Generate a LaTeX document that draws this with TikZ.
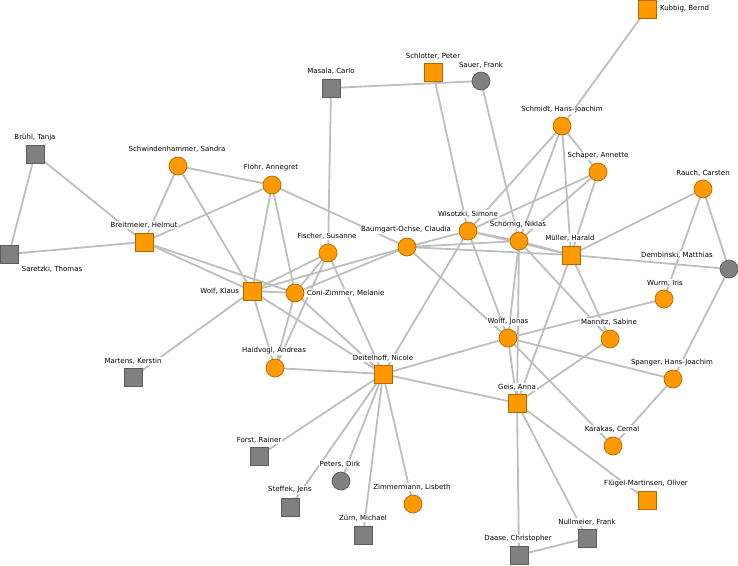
\documentclass[tikz,border=0pt]{standalone}
\usepackage{fontspec}
\setmainfont{DejaVu Sans}
\definecolor{edgegray}{RGB}{190,190,190}
\definecolor{ofill}{RGB}{255,153,0}
\definecolor{oline}{RGB}{176,104,0}
\definecolor{gfill}{RGB}{128,128,128}
\definecolor{gline}{RGB}{92,92,92}
\tikzset{
  edge/.style={draw=edgegray, line width=1.8pt},
  ocirc/.style={circle, fill=ofill, draw=oline, line width=0.7pt, minimum size=18pt, inner sep=0pt},
  osq/.style={rectangle, fill=ofill, draw=oline, line width=0.7pt, minimum size=18pt, inner sep=0pt},
  gcirc/.style={circle, fill=gfill, draw=gline, line width=0.7pt, minimum size=18pt, inner sep=0pt},
  gsq/.style={rectangle, fill=gfill, draw=gline, line width=0.7pt, minimum size=18pt, inner sep=0pt},
  lbl/.style={font=\fontsize{7}{8.4}\selectfont, fill=white, inner sep=0.8pt}
}
\begin{document}
\begin{tikzpicture}[x=1pt,y=-1pt]
\useasboundingbox (0,0) rectangle (738,565);
% node coordinates
\coordinate (kubbig) at (647,9);
\coordinate (schlotter) at (433,72);
\coordinate (sauer) at (481,81);
\coordinate (masala) at (331,88);
\coordinate (bruehl) at (35,154);
\coordinate (schwind) at (178,166);
\coordinate (flohr) at (272,185);
\coordinate (schmidt) at (562,126);
\coordinate (schaper) at (598,172);
\coordinate (rauch) at (703,189);
\coordinate (breit) at (144,242);
\coordinate (saretzki) at (9,254);
\coordinate (fischer) at (328,253);
\coordinate (baumgart) at (407,247);
\coordinate (wisotzki) at (468,231);
\coordinate (schoernig) at (519,241);
\coordinate (mueller) at (571,255);
\coordinate (dembinski) at (729,269);
\coordinate (wolfk) at (252,291);
\coordinate (coni) at (295,293);
\coordinate (wurm) at (664,299);
\coordinate (wolff) at (508,338);
\coordinate (mannitz) at (610,339);
\coordinate (martens) at (133,377);
\coordinate (haidvogl) at (275,368);
\coordinate (deitel) at (383,374);
\coordinate (spanger) at (673,379);
\coordinate (geis) at (517,403);
\coordinate (forst) at (259,456);
\coordinate (karakas) at (613,446);
\coordinate (peters) at (341,481);
\coordinate (steffek) at (290,507);
\coordinate (zimmer) at (413,504);
\coordinate (fluegel) at (647,500);
\coordinate (zuern) at (363,535);
\coordinate (nullmeier) at (587,538);
\coordinate (daase) at (519,555);
% edges
\foreach \a/\b in {bruehl/saretzki, bruehl/breit, saretzki/breit,
  schwind/flohr, schwind/breit, schwind/wolfk,
  flohr/breit, flohr/wolfk, flohr/coni, flohr/baumgart,
  breit/wolfk, breit/coni,
  masala/sauer, masala/fischer, schlotter/wisotzki, sauer/schoernig,
  kubbig/schmidt, schmidt/wisotzki, schmidt/schoernig, schmidt/mueller, schmidt/schaper,
  schaper/wisotzki, schaper/schoernig, schaper/mueller,
  rauch/mueller, rauch/wurm, rauch/dembinski, mueller/dembinski, dembinski/spanger,
  wolff/wurm, wolff/spanger, wolff/karakas, spanger/karakas,
  mannitz/geis, mueller/mannitz, schoernig/mannitz, mueller/geis,
  wolff/deitel, wolff/geis, schoernig/wolff, schoernig/geis,
  wisotzki/wolff, baumgart/wolff, wisotzki/deitel,
  deitel/geis, deitel/haidvogl, deitel/forst, deitel/steffek, deitel/peters, deitel/zuern, deitel/zimmer,
  deitel/fischer, deitel/coni, deitel/wolfk,
  wolfk/martens, wolfk/haidvogl, wolfk/coni, wolfk/fischer, wolfk/baumgart,
  coni/haidvogl, fischer/haidvogl, fischer/coni, coni/baumgart,
  baumgart/wisotzki, baumgart/schoernig, baumgart/mueller,
  wisotzki/schoernig, wisotzki/mueller, schoernig/mueller,
  geis/daase, geis/nullmeier, geis/fluegel, daase/nullmeier}
  \draw[edge] (\a) -- (\b);
% labels
\node[lbl, anchor=west] (lkubbig) at (659,9) {Kubbig, Bernd};
\node[lbl] (lschlotter) at (433,56) {Schlotter, Peter};
\node[lbl] (lsauer) at (481,65) {Sauer, Frank};
\node[lbl] (lmasala) at (331,71) {Masala, Carlo};
\node[lbl] (lbruehl) at (35,138) {Brühl, Tanja};
\node[lbl] (lschwind) at (177,149) {Schwindenhammer, Sandra};
\node[lbl] (lflohr) at (271,168) {Flohr, Annegret};
\node[lbl] (lschmidt) at (562,110) {Schmidt, Hans-Joachim};
\node[lbl] (lschaper) at (598,156) {Schaper, Annette};
\node[lbl] (lrauch) at (703,173) {Rauch, Carsten};
\node[lbl] (lbreit) at (144,225) {Breitmeier, Helmut};
\node[lbl] (lsaretzki) at (52,269) {Saretzki, Thomas};
\node[lbl] (lfischer) at (327,236) {Fischer, Susanne};
\node[lbl] (lbaumgart) at (406,230) {Baumgart-Ochse, Claudia};
\node[lbl] (lwisotzki) at (468,214) {Wisotzki, Simone};
\node[lbl] (lschoernig) at (518,225) {Schörnig, Niklas};
\node[lbl] (lmueller) at (570,238) {Müller, Harald};
\node[lbl] (ldembinski) at (677,255) {Dembinski, Matthias};
\node[lbl, anchor=east] (lwolfk) at (240,291) {Wolf, Klaus};
\node[lbl, anchor=west] (lconi) at (306,293) {Coni-Zimmer, Melanie};
\node[lbl] (lwurm) at (665,283) {Wurm, Iris};
\node[lbl] (lwolff) at (508,322) {Wolff, Jonas};
\node[lbl] (lmannitz) at (609,322) {Mannitz, Sabine};
\node[lbl] (lmartens) at (133,361) {Martens, Kerstin};
\node[lbl] (lhaidvogl) at (274,351) {Haidvogl, Andreas};
\node[lbl] (ldeitel) at (383,358) {Deitelhoff, Nicole};
\node[lbl] (lspanger) at (672,363) {Spanger, Hans-Joachim};
\node[lbl] (lgeis) at (517,387) {Geis, Anna};
\node[lbl] (lforst) at (259,440) {Forst, Rainer};
\node[lbl] (lkarakas) at (612,429) {Karakas, Cemal};
\node[lbl] (lpeters) at (340,464) {Peters, Dirk};
\node[lbl] (lsteffek) at (290,490) {Steffek, Jens};
\node[lbl] (lzimmer) at (412,487) {Zimmermann, Lisbeth};
\node[lbl] (lfluegel) at (646,484) {Flügel-Martinsen, Oliver};
\node[lbl] (lzuern) at (363,518) {Zürn, Michael};
\node[lbl] (lnullmeier) at (587,522) {Nullmeier, Frank};
\node[lbl] (ldaase) at (518,539) {Daase, Christopher};
% nodes
\node[osq] (nkubbig) at (kubbig) {};
\node[osq] (nschlotter) at (schlotter) {};
\node[gcirc] (nsauer) at (sauer) {};
\node[gsq] (nmasala) at (masala) {};
\node[gsq] (nbruehl) at (bruehl) {};
\node[ocirc] (nschwind) at (schwind) {};
\node[ocirc] (nflohr) at (flohr) {};
\node[ocirc] (nschmidt) at (schmidt) {};
\node[ocirc] (nschaper) at (schaper) {};
\node[ocirc] (nrauch) at (rauch) {};
\node[osq] (nbreit) at (breit) {};
\node[gsq] (nsaretzki) at (saretzki) {};
\node[ocirc] (nfischer) at (fischer) {};
\node[ocirc] (nbaumgart) at (baumgart) {};
\node[ocirc] (nwisotzki) at (wisotzki) {};
\node[ocirc] (nschoernig) at (schoernig) {};
\node[osq] (nmueller) at (mueller) {};
\node[gcirc] (ndembinski) at (dembinski) {};
\node[osq] (nwolfk) at (wolfk) {};
\node[ocirc] (nconi) at (coni) {};
\node[ocirc] (nwurm) at (wurm) {};
\node[ocirc] (nwolff) at (wolff) {};
\node[ocirc] (nmannitz) at (mannitz) {};
\node[gsq] (nmartens) at (martens) {};
\node[ocirc] (nhaidvogl) at (haidvogl) {};
\node[osq] (ndeitel) at (deitel) {};
\node[ocirc] (nspanger) at (spanger) {};
\node[osq] (ngeis) at (geis) {};
\node[gsq] (nforst) at (forst) {};
\node[ocirc] (nkarakas) at (karakas) {};
\node[gcirc] (npeters) at (peters) {};
\node[gsq] (nsteffek) at (steffek) {};
\node[ocirc] (nzimmer) at (zimmer) {};
\node[osq] (nfluegel) at (fluegel) {};
\node[gsq] (nzuern) at (zuern) {};
\node[gsq] (nnullmeier) at (nullmeier) {};
\node[gsq] (ndaase) at (daase) {};
\end{tikzpicture}
\end{document}
